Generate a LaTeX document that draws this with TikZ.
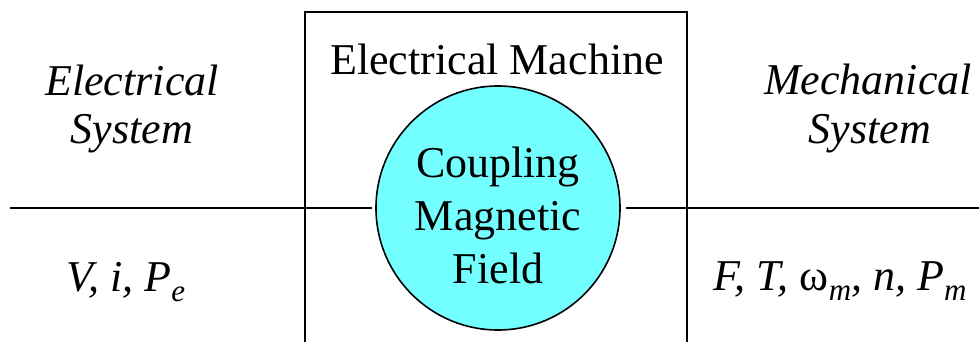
\documentclass[tikz,border=0pt]{standalone}
\usepackage{fontspec}
\setmainfont{Liberation Serif}
\definecolor{fieldcyan}{RGB}{115,255,255}
\newcommand\subsc[1]{\raisebox{-0.24em}{\fontsize{31}{31}\selectfont\itshape #1}}
\begin{document}
\begin{tikzpicture}[x=1pt,y=-1pt,
  lbl/.style={anchor=base,inner sep=0pt,font=\fontsize{44}{52}\selectfont},
  ilbl/.style={lbl,font=\fontsize{44}{52}\selectfont\itshape},
  ln/.style={line width=1.6pt,black}]
\useasboundingbox (0,0) rectangle (979,342);
% machine box (open at the bottom)
\coordinate (bl) at (305,342);
\coordinate (tl) at (305,12);
\coordinate (tr) at (687,12);
\coordinate (br) at (687,342);
\draw[ln] (bl) -- (tl) -- (tr) -- (br);
% coupling field
\node[circle,draw,line width=1.6pt,fill=fieldcyan,minimum size=244pt,inner sep=0pt] (circ) at (498,208) {};
% horizontal line
\coordinate (lend) at (10,208);
\coordinate (rend) at (979,208);
\draw[ln] (lend) -- ([xshift=-3pt]circ.west);
\draw[ln] ([xshift=5pt]circ.east) -- (rend);
% texts
\node[lbl] (em) at (497,75) {Electrical Machine};
\node[lbl] (c1) at (498,177) {Coupling};
\node[lbl] (c2) at (498,230) {Magnetic};
\node[lbl] (c3) at (498,283) {Field};
\node[ilbl] (es1) at (132,96) {Electrical};
\node[ilbl] (es2) at (132,143) {System};
\node[ilbl] (ms1) at (868,95) {Mechanical};
\node[ilbl] (ms2) at (870,143) {System};
\node[ilbl] (ev) at (126,291) {V, i, P\subsc{e}};
\node[ilbl] (mv) at (840,290) {F, T, {\upshape ω}\subsc{m}, n, P\subsc{m}};
\end{tikzpicture}
\end{document}
